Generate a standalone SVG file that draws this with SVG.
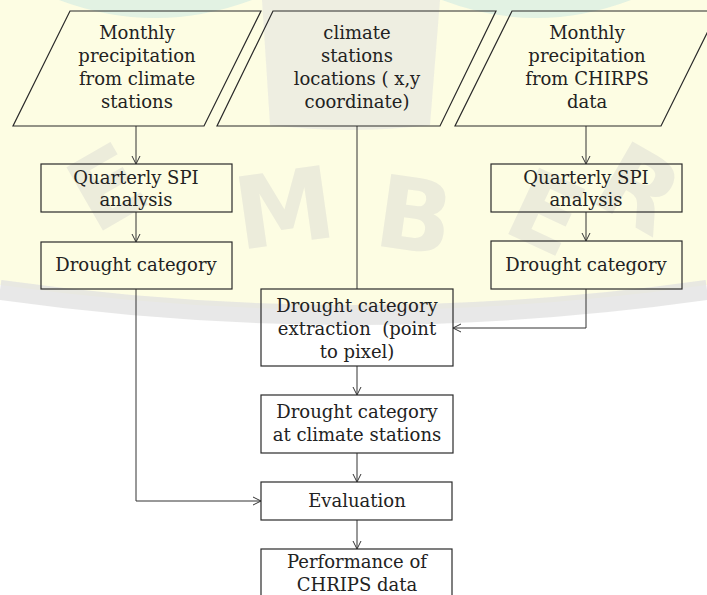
<svg xmlns="http://www.w3.org/2000/svg" width="707" height="595" viewBox="0 0 707 595">
<style>
.bg-cream{fill:#fdfde3}
.wm{font-family:"DejaVu Sans",sans-serif;font-weight:bold;font-size:100px;fill:#d8d8d2;opacity:0.45}
.shape{fill:none;stroke:#2a2a2a;stroke-width:1.2}
.lbl{font-family:"DejaVu Serif","Liberation Serif",serif;font-size:18px;fill:#222;text-anchor:middle;white-space:pre}
.conn{fill:none;stroke:#333;stroke-width:1}
</style>
<defs>
<marker id="arr" viewBox="0 0 10 10" refX="9" refY="5" markerWidth="10" markerHeight="10" markerUnits="userSpaceOnUse" orient="auto">
<path d="M1,1 L9,5 L1,9" fill="none" stroke="#333" stroke-width="1"/>
</marker>
</defs>
<g id="watermark">
<rect x="0" y="0" width="707" height="595" fill="#ffffff"/>
<path class="bg-cream" d="M0,0 H707 V285 Q355,335 0,285 Z"/>
<path d="M59,0 Q155,36 252,0 Z" fill="#d6ede2" opacity="0.7"/>
<path d="M442,0 Q536,36 631,0 Z" fill="#d6ede2" opacity="0.7"/>
<path d="M262,0 H440 L430,125 Q350,135 270,125 Z" fill="#e2e2e0" opacity="0.55"/>
<path d="M0,290 Q355,340 707,290" fill="none" stroke="#e0e0e0" stroke-width="20" opacity="0.75"/>
<text class="wm" transform="translate(95,235) rotate(-30)">E</text>
<text class="wm" transform="translate(240,250) rotate(-8)">M</text>
<text class="wm" transform="translate(372,245) rotate(8)">B</text>
<text class="wm" transform="translate(500,230) rotate(25)">E</text>
<text class="wm" transform="translate(588,200) rotate(30)">R</text>
</g>
<g id="connectors">
<line class="conn" x1="136" y1="126" x2="136" y2="164" marker-end="url(#arr)"/>
<line class="conn" x1="136" y1="212" x2="136" y2="242" marker-end="url(#arr)"/>
<line class="conn" x1="586" y1="126" x2="586" y2="164" marker-end="url(#arr)"/>
<line class="conn" x1="586" y1="212" x2="586" y2="241" marker-end="url(#arr)"/>
<line class="conn" x1="357" y1="126" x2="357" y2="289"/>
<polyline class="conn" points="586,289 586,328 453,328" marker-end="url(#arr)"/>
<line class="conn" x1="357" y1="366" x2="357" y2="395" marker-end="url(#arr)"/>
<polyline class="conn" points="136,289 136,501 261,501" marker-end="url(#arr)"/>
<line class="conn" x1="357" y1="453" x2="357" y2="482" marker-end="url(#arr)"/>
<line class="conn" x1="357" y1="520" x2="357" y2="549" marker-end="url(#arr)"/>
</g>
<g id="in-stations">
<polygon class="shape" points="70,11 261,11 204,126 13,126"/>
<text class="lbl" x="137" y="39">Monthly</text>
<text class="lbl" x="137" y="62">precipitation</text>
<text class="lbl" x="137" y="85">from climate</text>
<text class="lbl" x="137" y="108">stations</text>
</g>
<g id="in-locations">
<polygon class="shape" points="273,11 496,11 440,126 217,126"/>
<text class="lbl" x="357" y="39">climate</text>
<text class="lbl" x="357" y="62">stations</text>
<text class="lbl" x="357" y="85">locations ( x,y</text>
<text class="lbl" x="357" y="108">coordinate)</text>
</g>
<g id="in-chirps">
<polygon class="shape" points="512,11 718,11 661,126 455,126"/>
<text class="lbl" x="587" y="39">Monthly</text>
<text class="lbl" x="587" y="62">precipitation</text>
<text class="lbl" x="587" y="85">from CHIRPS</text>
<text class="lbl" x="587" y="108">data</text>
</g>
<g id="spi-left">
<rect class="shape" x="41" y="164" width="191" height="48"/>
<text class="lbl" x="136" y="184">Quarterly SPI</text>
<text class="lbl" x="136" y="206">analysis</text>
</g>
<g id="spi-right">
<rect class="shape" x="491" y="164" width="191" height="48"/>
<text class="lbl" x="586" y="184">Quarterly SPI</text>
<text class="lbl" x="586" y="206">analysis</text>
</g>
<g id="drought-left">
<rect class="shape" x="41" y="242" width="191" height="47"/>
<text class="lbl" x="136" y="271">Drought category</text>
</g>
<g id="drought-right">
<rect class="shape" x="491" y="241" width="191" height="48"/>
<text class="lbl" x="586" y="271">Drought category</text>
</g>
<g id="extraction">
<rect class="shape" x="261" y="289" width="192" height="77"/>
<text class="lbl" x="357" y="312">Drought category</text>
<text class="lbl" x="357" y="335">extraction  (point</text>
<text class="lbl" x="357" y="358">to pixel)</text>
</g>
<g id="at-stations">
<rect class="shape" x="261" y="395" width="192" height="58"/>
<text class="lbl" x="357" y="418">Drought category</text>
<text class="lbl" x="357" y="441">at climate stations</text>
</g>
<g id="evaluation">
<rect class="shape" x="261" y="482" width="191" height="38"/>
<text class="lbl" x="357" y="507">Evaluation</text>
</g>
<g id="performance">
<rect class="shape" x="261" y="549" width="191" height="60"/>
<text class="lbl" x="357" y="568">Performance of</text>
<text class="lbl" x="357" y="591">CHRIPS data</text>
</g>
</svg>
